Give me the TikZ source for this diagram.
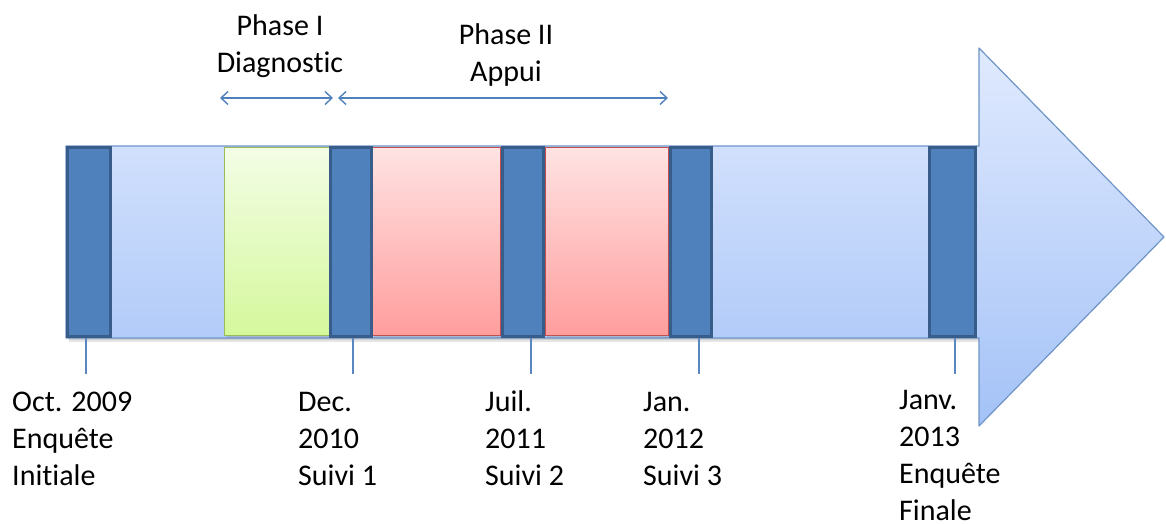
\documentclass[tikz,border=0pt]{standalone}
\usepackage{fontspec}
\setmainfont{Carlito}[Ligatures=NoCommon]
\usetikzlibrary{arrows.meta,shadows}

\definecolor{barTop}{HTML}{E0EAFE}
\definecolor{barBot}{HTML}{A4C2F7}
\definecolor{barEdge}{HTML}{6E94C8}
\definecolor{msFill}{HTML}{4F81BD}
\definecolor{msEdge}{HTML}{385D8A}
\definecolor{grTop}{HTML}{F3FDE6}
\definecolor{grBot}{HTML}{D5F89C}
\definecolor{grEdge}{HTML}{9BBB59}
\definecolor{rdTop}{HTML}{FFE3E3}
\definecolor{rdBot}{HTML}{FF9D9D}
\definecolor{rdEdge}{HTML}{C0504D}
\definecolor{tickCol}{HTML}{5B87C0}
\definecolor{spanCol}{HTML}{4F81BD}

\begin{document}
\begin{tikzpicture}[x=1pt,y=-1pt,
  txt/.style={font=\fontsize{30}{37}\selectfont, inner sep=0pt, text=black},
  lbl/.style={txt, align=left, anchor=base west},
  ttl/.style={txt, align=center, anchor=base},
  milestone/.style={draw=msEdge, line width=3pt, fill=msFill, inner sep=0pt,
    minimum height=189pt},
  period/.style={line width=1pt, inner sep=0pt, minimum height=188pt,
    drop shadow={shadow xshift=1.5pt, shadow yshift=-2pt, opacity=0.25}},
  green period/.style={period, draw=grEdge, top color=grTop, bottom color=grBot},
  red period/.style={period, draw=rdEdge, top color=rdTop, bottom color=rdBot},
  tick/.style={draw=tickCol, line width=1.1pt},
  span/.style={draw=spanCol, line width=1.4pt,
    {Straight Barb[length=7pt,width=13pt]}-{Straight Barb[length=7pt,width=13pt]}}
]
\useasboundingbox (0,0) rectangle (1166,524);

% soft shadow under the time bar
\fill[black, opacity=0.10] (69,150) rectangle (980,342);
\fill[black, opacity=0.10] (68,148) rectangle (979,340);

% time bar with arrow head
\path[draw=barEdge, line width=1.2pt, line join=round, top color=barTop, bottom color=barBot]
  (66,146) -- (979,146) -- (979,48) -- (1164,237) -- (979,426) -- (979,338) -- (66,338) -- cycle;

% phases
\node[green period, minimum width=105pt] (p1)  at (277,241.5) {};
\node[red period,   minimum width=128pt] (p2a) at (436.5,241.5) {};
\node[red period,   minimum width=123pt] (p2b) at (607,241.5) {};

% survey milestones
\node[milestone, minimum width=43pt] (m1) at (89,242) {};
\node[milestone, minimum width=41pt] (m2) at (351,242) {};
\node[milestone, minimum width=41pt] (m3) at (523,242) {};
\node[milestone, minimum width=41pt] (m4) at (691,242) {};
\node[milestone, minimum width=46pt] (m5) at (952.5,242) {};

% tick marks below milestones
\coordinate (t1) at (86,374);
\coordinate (t2) at (353,374);
\coordinate (t3) at (531,374);
\coordinate (t4) at (699,374);
\coordinate (t5) at (955,374);
\draw[tick] (t1 |- m1.south) -- (t1);
\draw[tick] (t2 |- m2.south) -- (t2);
\draw[tick] (t3 |- m3.south) -- (t3);
\draw[tick] (t4 |- m4.south) -- (t4);
\draw[tick] (t5 |- m5.south) -- (t5);

% milestone labels (anchored on the baseline of their last line)
\node[lbl] (l1) at (12,485)  {Oct. 2009\\Enquête\\Initiale};
\node[lbl] (l2) at (298,485) {Dec.\\2010\\Suivi 1};
\node[lbl] (l3) at (485,485) {Juil.\\2011\\Suivi 2};
\node[lbl] (l4) at (643,485) {Jan.\\2012\\Suivi 3};
\node[lbl] (l5) at (899,520) {Janv.\\2013\\Enquête\\Finale};

% phase titles and spans
\node[ttl] (ph1) at (280,73) {Phase I\\Diagnostic};
\node[ttl] (ph2) at (506,82) {Phase II\\Appui};
\coordinate (s1a) at (220,98);
\coordinate (s1b) at (333,98);
\coordinate (s2a) at (338,98);
\coordinate (s2b) at (668,98);
\draw[span] (s1a) -- (s1b);
\draw[span] (s2a) -- (s2b);
\end{tikzpicture}
\end{document}
